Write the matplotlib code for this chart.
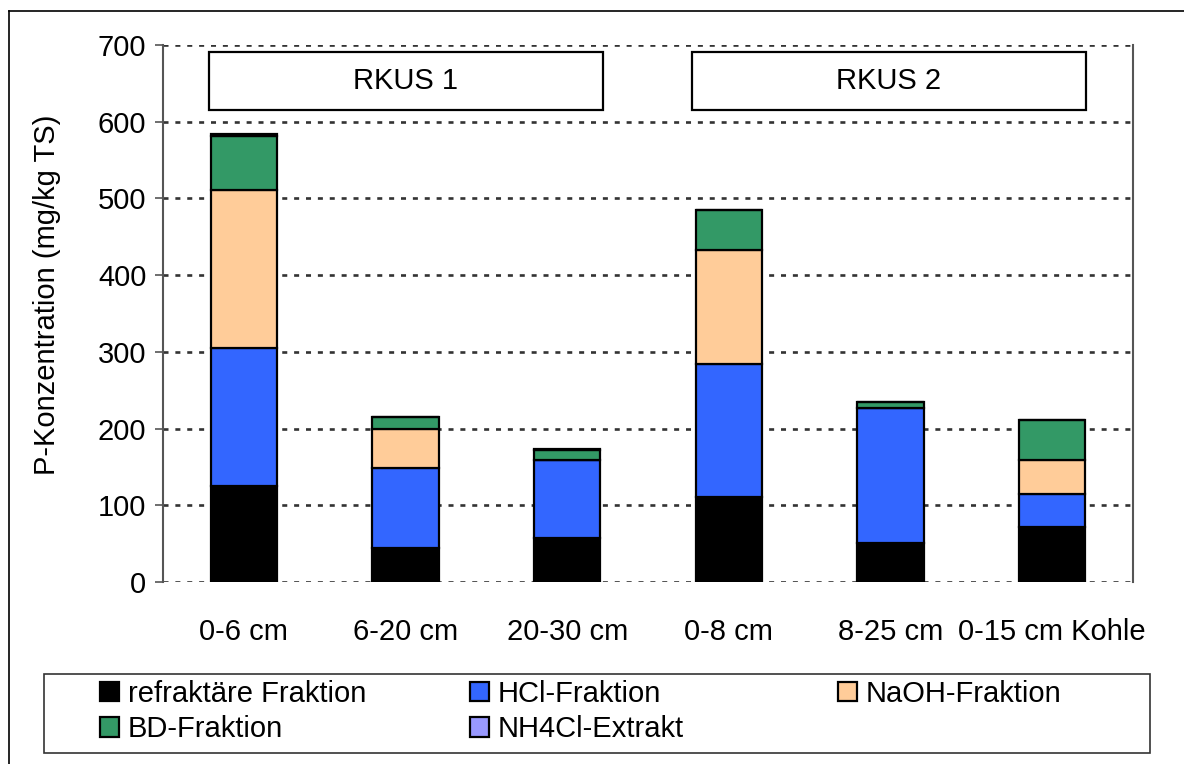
import matplotlib
matplotlib.use("Agg")
import matplotlib.pyplot as plt
from matplotlib.patches import Rectangle, Patch
from matplotlib.lines import Line2D
import numpy as np

plt.rcParams['font.family'] = ['Liberation Sans', 'DejaVu Sans']

categories = ["0-6 cm", "6-20 cm", "20-30 cm", "0-8 cm", "8-25 cm", "0-15 cm Kohle"]
refraktaer = [125, 44, 57, 111, 51, 72]
hcl = [180, 105, 102, 173, 176, 43]
naoh = [206, 50, 0, 149, 0, 44]
bd = [70, 16, 13, 52, 8, 52]
nh4cl = [3, 0, 2, 0, 0, 0]
series_names = ["refraktäre Fraktion", "HCl-Fraktion", "NaOH-Fraktion", "BD-Fraktion", "NH4Cl-Extrakt"]
series_colors = ["#000000", "#3366FF", "#FFCC99", "#339966", "#9999FF"]
yticks = [0, 100, 200, 300, 400, 500, 600, 700]
group_labels = ["RKUS 1", "RKUS 2"]

FS = 21
W, H = 1184, 764
fig = plt.figure(figsize=(W / 100, H / 100), dpi=100)
ax = fig.add_axes([163 / W, 1 - 582 / H, (1133 - 163) / W, (582 - 45) / H])

x = np.arange(len(categories))
series = [refraktaer, hcl, naoh, bd, nh4cl]
bottom = np.zeros(len(categories))
handles = []
for vals, name, col in zip(series, series_names, series_colors):
    v = np.array(vals, dtype=float)
    ax.bar(x, v, width=0.41, bottom=bottom, color=col, edgecolor="black",
           linewidth=1.6, zorder=3)
    bottom += v
    handles.append(Patch(facecolor=col, edgecolor="black", linewidth=1.6, label=name))

ax.set_xlim(-0.5, len(categories) - 0.5)
ax.set_ylim(0, 700)
ax.set_yticks(yticks)
ax.set_yticklabels([str(t) for t in yticks], fontsize=FS)
ax.set_xticks(x)
ax.set_xticklabels(categories, fontsize=FS)
ax.tick_params(axis="x", length=0, pad=26)
ax.tick_params(axis="y", length=6, width=1.2, color="#555555", pad=6, direction="out")
ax.set_ylabel("P-Konzentration (mg/kg TS)", fontsize=FS)
ax.yaxis.set_label_coords(-0.105, 0.534)

for t in yticks:
    ax.axhline(t, color="#333333", linewidth=1.9, linestyle=(0, (1.9, 2.6)), zorder=1)

for s in ["top", "bottom"]:
    ax.spines[s].set_visible(False)
for s in ["left", "right"]:
    ax.spines[s].set_color("#555555")
    ax.spines[s].set_linewidth(1.5)

# group boxes
for (x0, x1), lab in zip([(-0.217, 2.22), (2.77, 5.21)], group_labels):
    ax.add_patch(Rectangle((x0, 615), x1 - x0, 76, facecolor="white", edgecolor="black",
                           linewidth=1.6, zorder=4, clip_on=False))
    ax.text((x0 + x1) / 2, 653, lab, ha="center", va="center", fontsize=FS, zorder=5)

# outer frame
fig.add_artist(Line2D([9 / W, 9 / W], [-0.1, 1 - 11 / H], color="black", linewidth=1.2))
fig.add_artist(Line2D([9 / W, 1.1], [1 - 11 / H, 1 - 11 / H], color="black", linewidth=1.2))

# legend frame
fig.add_artist(Rectangle((44 / W, 1 - 753 / H), (1150 - 44) / W, (753 - 674) / H,
                         transform=fig.transFigure, facecolor="white", edgecolor="#333333",
                         linewidth=1.2))
columns = [[0, 3], [1, 4], [2]]
col_x = [100, 470, 838]
for idxs, cx in zip(columns, col_x):
    fig.legend([handles[i] for i in idxs], [series_names[i] for i in idxs],
               loc="upper left", bbox_to_anchor=(cx / W, 1 - 680 / H), ncol=1,
               frameon=False, fontsize=FS, handlelength=0.65, handleheight=0.65,
               handletextpad=0.3, labelspacing=0.25, borderpad=0, borderaxespad=0)

fig.savefig("out.png", dpi=100)
